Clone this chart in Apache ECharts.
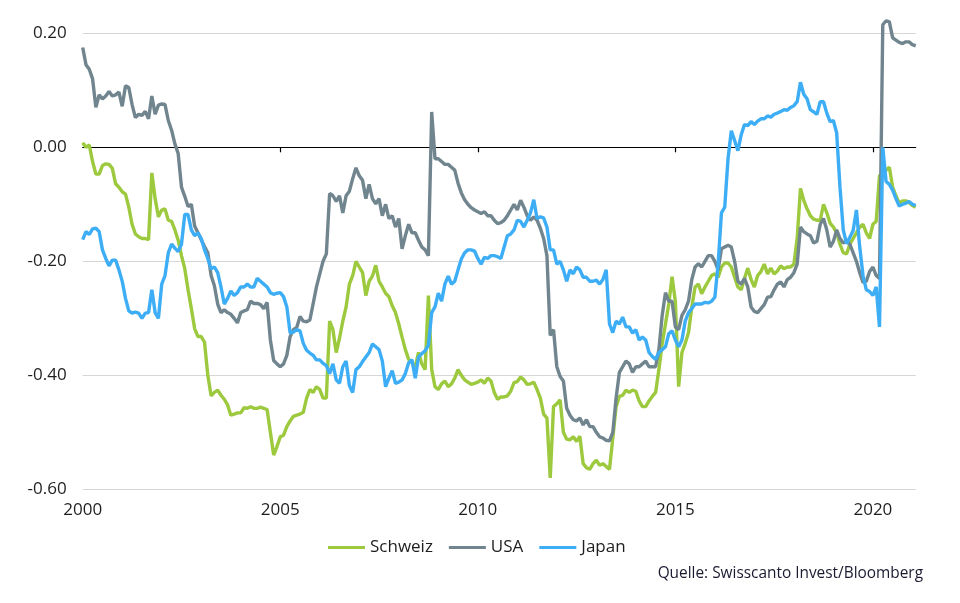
<!DOCTYPE html>
<html><head><meta charset="utf-8">
<script src="https://cdn.jsdelivr.net/npm/echarts@6/dist/echarts.min.js"></script>
<style>html,body{margin:0;padding:0;background:#fff}#c{width:960px;height:603px}</style>
</head><body><div id="c"></div><script>
// Monthly observations, Jan 2000 .. Feb 2021
const startYear = 2000;
const monthsPerYear = 12;
const seriesNames = ['Schweiz', 'USA', 'Japan'];
const schweiz = [
0.008,0.0,0.004,-0.025,-0.047,-0.047,-0.032,-0.029,-0.03,-0.037,
-0.064,-0.07,-0.078,-0.082,-0.105,-0.135,-0.152,-0.157,-0.16,-0.16,
-0.162,-0.045,-0.09,-0.122,-0.11,-0.108,-0.128,-0.13,-0.145,-0.163,
-0.19,-0.213,-0.25,-0.283,-0.318,-0.332,-0.332,-0.342,-0.40,-0.436,
-0.43,-0.426,-0.435,-0.442,-0.452,-0.47,-0.468,-0.466,-0.466,-0.457,
-0.458,-0.455,-0.458,-0.458,-0.456,-0.458,-0.46,-0.50,-0.54,-0.525,
-0.508,-0.505,-0.49,-0.48,-0.472,-0.47,-0.468,-0.465,-0.44,-0.425,
-0.43,-0.42,-0.425,-0.44,-0.44,-0.305,-0.32,-0.36,-0.335,-0.305,
-0.28,-0.24,-0.225,-0.20,-0.21,-0.22,-0.26,-0.235,-0.226,-0.207,
-0.235,-0.245,-0.256,-0.262,-0.278,-0.29,-0.31,-0.333,-0.355,-0.372,
-0.378,-0.385,-0.36,-0.38,-0.39,-0.26,-0.39,-0.42,-0.425,-0.415,
-0.41,-0.42,-0.415,-0.405,-0.39,-0.40,-0.408,-0.412,-0.416,-0.414,
-0.412,-0.408,-0.414,-0.405,-0.41,-0.43,-0.442,-0.438,-0.438,-0.436,
-0.428,-0.413,-0.411,-0.403,-0.408,-0.416,-0.415,-0.412,-0.425,-0.44,
-0.468,-0.475,-0.58,-0.455,-0.45,-0.443,-0.50,-0.512,-0.513,-0.508,
-0.516,-0.507,-0.555,-0.562,-0.565,-0.555,-0.549,-0.558,-0.555,-0.56,
-0.565,-0.51,-0.455,-0.437,-0.435,-0.426,-0.43,-0.426,-0.428,-0.445,
-0.455,-0.455,-0.445,-0.437,-0.43,-0.39,-0.345,-0.31,-0.275,-0.227,
-0.27,-0.42,-0.36,-0.344,-0.325,-0.28,-0.245,-0.24,-0.257,-0.245,
-0.235,-0.225,-0.222,-0.228,-0.21,-0.203,-0.203,-0.21,-0.228,-0.245,
-0.25,-0.23,-0.212,-0.232,-0.245,-0.225,-0.218,-0.205,-0.222,-0.212,
-0.222,-0.217,-0.208,-0.213,-0.21,-0.21,-0.205,-0.16,-0.072,-0.093,
-0.108,-0.12,-0.126,-0.128,-0.128,-0.10,-0.115,-0.133,-0.14,-0.15,
-0.17,-0.185,-0.187,-0.17,-0.16,-0.15,-0.14,-0.135,-0.15,-0.16,
-0.135,-0.13,-0.05,-0.045,-0.04,-0.035,-0.07,-0.085,-0.098,-0.094,
-0.094,-0.097,-0.102,-0.105
];
const usa = [
0.175,0.145,0.137,0.12,0.07,0.092,0.085,0.09,0.098,0.09,
0.092,0.097,0.072,0.108,0.105,0.075,0.052,0.058,0.056,0.063,
0.05,0.09,0.058,0.074,0.076,0.075,0.047,0.03,0.006,-0.011,
-0.07,-0.086,-0.104,-0.10,-0.138,-0.15,-0.162,-0.174,-0.185,-0.225,
-0.243,-0.275,-0.29,-0.285,-0.29,-0.293,-0.30,-0.308,-0.29,-0.287,
-0.285,-0.27,-0.274,-0.274,-0.276,-0.283,-0.272,-0.338,-0.374,-0.38,
-0.385,-0.38,-0.365,-0.332,-0.32,-0.316,-0.297,-0.305,-0.306,-0.303,
-0.274,-0.245,-0.222,-0.20,-0.187,-0.081,-0.085,-0.095,-0.085,-0.115,
-0.085,-0.077,-0.055,-0.036,-0.05,-0.058,-0.09,-0.065,-0.09,-0.099,
-0.09,-0.12,-0.10,-0.125,-0.12,-0.14,-0.125,-0.178,-0.155,-0.135,
-0.15,-0.15,-0.163,-0.175,-0.18,-0.19,0.062,-0.02,-0.02,-0.025,
-0.03,-0.03,-0.035,-0.04,-0.063,-0.08,-0.092,-0.10,-0.106,-0.11,
-0.113,-0.116,-0.113,-0.12,-0.12,-0.128,-0.134,-0.132,-0.128,-0.12,
-0.11,-0.10,-0.11,-0.093,-0.105,-0.12,-0.128,-0.122,-0.128,-0.142,
-0.16,-0.19,-0.33,-0.32,-0.385,-0.402,-0.41,-0.458,-0.47,-0.478,
-0.48,-0.475,-0.487,-0.478,-0.49,-0.49,-0.50,-0.508,-0.51,-0.514,
-0.515,-0.50,-0.44,-0.395,-0.385,-0.375,-0.38,-0.395,-0.385,-0.385,
-0.38,-0.375,-0.385,-0.385,-0.385,-0.355,-0.295,-0.255,-0.27,-0.27,
-0.315,-0.32,-0.295,-0.285,-0.27,-0.232,-0.21,-0.204,-0.21,-0.20,
-0.19,-0.19,-0.20,-0.215,-0.178,-0.175,-0.172,-0.175,-0.20,-0.235,
-0.24,-0.23,-0.245,-0.28,-0.288,-0.29,-0.283,-0.276,-0.263,-0.262,
-0.25,-0.24,-0.236,-0.245,-0.232,-0.228,-0.22,-0.205,-0.14,-0.148,
-0.152,-0.155,-0.168,-0.165,-0.135,-0.125,-0.145,-0.175,-0.165,-0.145,
-0.16,-0.168,-0.165,-0.17,-0.185,-0.20,-0.22,-0.237,-0.235,-0.218,
-0.21,-0.225,-0.23,0.215,0.222,0.22,0.192,0.188,0.184,0.182,
0.185,0.185,0.18,0.178
];
const japan = [
-0.162,-0.148,-0.153,-0.143,-0.142,-0.148,-0.18,-0.195,-0.208,-0.198,
-0.198,-0.215,-0.235,-0.265,-0.287,-0.291,-0.289,-0.291,-0.30,-0.291,
-0.29,-0.25,-0.29,-0.30,-0.24,-0.225,-0.185,-0.17,-0.177,-0.183,
-0.17,-0.118,-0.118,-0.145,-0.155,-0.15,-0.16,-0.18,-0.195,-0.213,
-0.21,-0.22,-0.245,-0.275,-0.265,-0.252,-0.26,-0.255,-0.245,-0.245,
-0.24,-0.245,-0.245,-0.23,-0.235,-0.24,-0.245,-0.255,-0.258,-0.256,
-0.255,-0.262,-0.28,-0.326,-0.324,-0.32,-0.322,-0.344,-0.356,-0.361,
-0.365,-0.373,-0.373,-0.379,-0.383,-0.397,-0.38,-0.408,-0.414,-0.385,
-0.375,-0.418,-0.43,-0.39,-0.385,-0.376,-0.368,-0.36,-0.345,-0.35,
-0.355,-0.375,-0.42,-0.405,-0.392,-0.414,-0.412,-0.408,-0.397,-0.378,
-0.373,-0.405,-0.368,-0.362,-0.357,-0.347,-0.29,-0.28,-0.256,-0.27,
-0.24,-0.226,-0.24,-0.235,-0.215,-0.196,-0.185,-0.18,-0.18,-0.182,
-0.195,-0.205,-0.193,-0.195,-0.19,-0.19,-0.192,-0.195,-0.175,-0.155,
-0.152,-0.145,-0.128,-0.13,-0.14,-0.128,-0.115,-0.092,-0.125,-0.122,
-0.124,-0.14,-0.18,-0.18,-0.205,-0.20,-0.215,-0.235,-0.215,-0.222,
-0.21,-0.215,-0.228,-0.228,-0.235,-0.235,-0.233,-0.24,-0.232,-0.215,
-0.31,-0.325,-0.305,-0.31,-0.298,-0.315,-0.315,-0.326,-0.32,-0.338,
-0.333,-0.338,-0.36,-0.367,-0.372,-0.36,-0.355,-0.35,-0.327,-0.322,
-0.338,-0.35,-0.338,-0.305,-0.29,-0.283,-0.275,-0.275,-0.275,-0.272,
-0.273,-0.27,-0.263,-0.204,-0.115,-0.105,-0.02,0.029,0.012,-0.006,
0.022,0.04,0.038,0.045,0.04,0.046,0.05,0.05,0.055,0.053,
0.058,0.06,0.063,0.066,0.065,0.07,0.073,0.08,0.114,0.093,
0.085,0.066,0.062,0.058,0.08,0.08,0.06,0.045,0.047,0.025,
-0.07,-0.145,-0.169,-0.158,-0.146,-0.11,-0.175,-0.225,-0.25,-0.253,
-0.26,-0.245,-0.315,0.0,-0.06,-0.065,-0.075,-0.09,-0.103,-0.10,
-0.098,-0.095,-0.10,-0.102
];
const yMin = -0.6, yMax = 0.2, yStep = 0.2;
const xLabelYears = [2000, 2005, 2010, 2015, 2020];
const xTickYears = [2005, 2010, 2015, 2020];
const sourceText = 'Quelle: Swisscanto Invest/Bloomberg';

const dates = schweiz.map((_, i) => startYear + i / monthsPerYear);
const xMax = dates[dates.length - 1];
const toPairs = arr => arr.map((v, i) => [dates[i], v]);
const colors = ['#9CC93E', '#71858F', '#3DAEF6'];
const FONT = '"Open Sans", "Noto Sans", sans-serif';

const chart = echarts.init(document.getElementById('c'), null, {renderer: 'canvas'});
chart.setOption({
  animation: false,
  color: colors,
  grid: {left: 82.7, right: 44.3, top: 33.3, bottom: 113.7, containLabel: false},
  xAxis: [{
    type: 'value', position: 'bottom', min: startYear, max: xMax,
    axisLine: {show: false, onZero: false}, axisTick: {show: false}, splitLine: {show: false},
    axisLabel: {customValues: xLabelYears, formatter: v => String(Math.round(v)),
      color: '#1e1e1e', fontSize: 17, fontFamily: FONT, margin: 12}
  }, {
    type: 'value', position: 'top', min: startYear, max: xMax,
    axisLine: {show: true, onZero: true, lineStyle: {color: '#000', width: 1.2}},
    axisTick: {show: true, inside: true, length: 5, customValues: xTickYears, lineStyle: {color: '#000', width: 1.2}},
    axisLabel: {show: false}, splitLine: {show: false}
  }],
  yAxis: {
    type: 'value', min: yMin, max: yMax, interval: yStep,
    axisLine: {show: false}, axisTick: {show: false},
    splitLine: {show: true, lineStyle: {color: '#d6d6d6', width: 1}},
    axisLabel: {formatter: v => (Math.abs(v) < 1e-9 ? 0 : v).toFixed(2),
      color: '#1e1e1e', fontSize: 17, fontFamily: FONT, margin: 16}
  },
  legend: {
    data: seriesNames, left: 328, top: 539, padding: 0, icon: 'rect', itemWidth: 37, itemHeight: 3,
    itemGap: 16, textStyle: {color: '#1e1e1e', fontSize: 17, fontFamily: FONT}
  },
  graphic: [{
    type: 'text', right: 37, top: 566,
    style: {text: sourceText, fill: '#1a1a30', font: '15.4px ' + FONT}
  }],
  series: [schweiz, usa, japan].map((arr, k) => ({
    name: seriesNames[k], type: 'line', xAxisIndex: 0, data: toPairs(arr),
    showSymbol: false, symbol: 'none', clip: false,
    lineStyle: {width: 3.4, color: colors[k]}, itemStyle: {color: colors[k]}
  }))
});
</script></body></html>
